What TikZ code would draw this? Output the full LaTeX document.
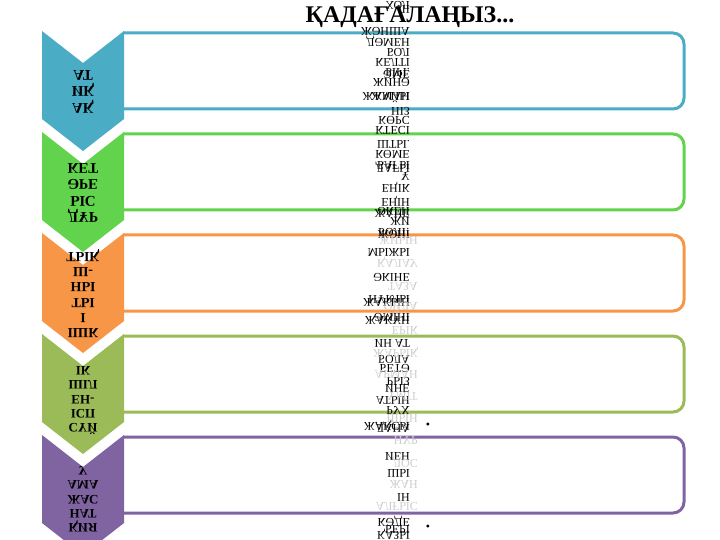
\documentclass[tikz,border=0pt]{standalone}
\usepackage{fontspec}
\setmainfont{Liberation Serif}
\usepackage{graphicx}
\usepackage{xcolor}

\definecolor{akblue}{RGB}{75,172,198}
\definecolor{drgreen}{RGB}{98,211,77}
\definecolor{tyorange}{RGB}{247,150,70}
\definecolor{suolive}{RGB}{155,187,89}
\definecolor{kipurple}{RGB}{128,100,162}

% upside-down stacked tab text: size, skip, lines
\newcommand{\mirrortab}[3]{\scalebox{1}[-1]{\fontsize{#1}{#2}\selectfont\begin{tabular}{@{}c@{}}#3\end{tabular}}}
\newcommand{\mirrorword}[1]{\scalebox{1}[-1]{#1}}

\begin{document}
\begin{tikzpicture}[x=1bp, y=-1bp]
    % Shape and text styles
    \tikzset{
        tabtext/.style={inner sep=0pt, font=\bfseries},
        panel/.style={line width=3bp, rounded corners=11bp},
        scrap/.style={anchor=east, inner sep=0pt, font=\fontsize{12}{10}\selectfont},
        ghost/.style={scrap, text=black!20}
    }
    \useasboundingbox (0,0) rectangle (720,540);

    % ==========================================
    % FRAMES AND CHEVRONS
    % ==========================================
    \foreach \t/\col in {31/akblue, 132/drgreen, 233/tyorange, 334/suolive, 435/kipurple} {
        \draw[panel, \col] (123,\t+2) -| (684,\t+78) -- (118,\t+78);
        \fill[\col] (42,\t) -- (83,\t+32) -- (124,\t) -- (124,\t+88) -- (83,\t+120) -- (42,\t+88) -- cycle;
    }

    % Tab labels (mirrored top to bottom)
    \node[tabtext] (tabA) at (83,90)    {\mirrortab{15}{16.5}{АҚ\\ИҚ\\АТ}};
    \node[tabtext] (tabB) at (83,191.5) {\mirrortab{15}{16.5}{ДҰР\\ЫС\\ӘРЕ\\КЕТ}};
    \node[tabtext] (tabC) at (83,293.5) {\mirrortab{14}{15.4}{ІШК\\І\\ТЫ\\НЫ\\Ш-\\ТЫҚ}};
    \node[tabtext] (tabD) at (83,398.5) {\mirrortab{13}{14.4}{СҮЙ\\ІСП\\ЕН-\\ШІЛ\\ІК}};
    \node[tabtext] (tabE) at (83,498)   {\mirrortab{13}{14.4}{ҚИЯ\\НАТ\\ЖАС\\АМА\\У}};

    % ==========================================
    % TITLE
    % ==========================================
    \node[font=\bfseries\fontsize{24}{24}\selectfont] (title) at (410,17) {ҚАДАҒАЛАҢЫЗ...};

    % ==========================================
    % SQUEEZED PANEL TEXT (mirrored column)
    % ==========================================
    \foreach \y/\w [count=\i] in {5/ХОЛ, 9/ЛІ, 31/ЖӘНША, 41/ДӘМЕН, 52/БОЛ, 62/КЕЛТІ, 72/БІРІ., 74/ӘМЕ,
        82/ЖИНӘ, 96/ЖАМАН, 98/ЖАЙЫ, 111/НІЗ, 120/КӨРС, 130/КТЕСІ, 144/ШТЫ., 154/КӨМЕ,
        165/БАҒЫ, 167/ДАҒЫ, 176/Ұ, 187/ЕҢІК, 201/ЕҢІН, 211/ӘКЕН, 213/ЖАНЕ, 221/ЖИ,
        232/БӨЛІ!, 234/ЖӘНІ, 252/МЫЖЫ, 277/ӘКІНЕ, 299/НҰРЛЫ, 301/ЖАҚЫН, 317/ӘМІНІ,
        319/ЖАҚҰН, 343/ИН АТ, 359/БОЛА, 368/БЕТӘ, 381/РЫЗ, 388/ИНЕ, 400/АТЫН,
        410/РУХ, 425/ЖАҚСЫ, 427/ДАНА, 456/ИЕН, 473/ШЫ, 497/ІН, 521/КӘДЕ,
        529/БЕРІ, 534/ҚАЗЫ} {
        \node[scrap] (scrap\i) at (410,\y) {\mirrorword{\w}};
    }

    % faint leftovers behind the column
    \foreach \y/\w [count=\i] in {240/ЖИЫН, 262/ҚАЛАУ, 286/ТАЗА, 308/ОЙЛА, 330/ЕРІК,
        352/ЖАРЫҚ, 374/АРМАН, 396/ҮМІТ, 418/ШЫН, 440/НҰР, 462/ДОС, 484/ЖАН, 506/АЛҒЫС} {
        \node[ghost] (ghost\i) at (418,\y) {\mirrorword{\w}};
    }

    % bullets of the last two panels
    \node[font=\fontsize{12}{12}\selectfont] (dotD) at (428,426) {•};
    \node[font=\fontsize{12}{12}\selectfont] (dotE) at (428,528) {•};
\end{tikzpicture}
\end{document}
